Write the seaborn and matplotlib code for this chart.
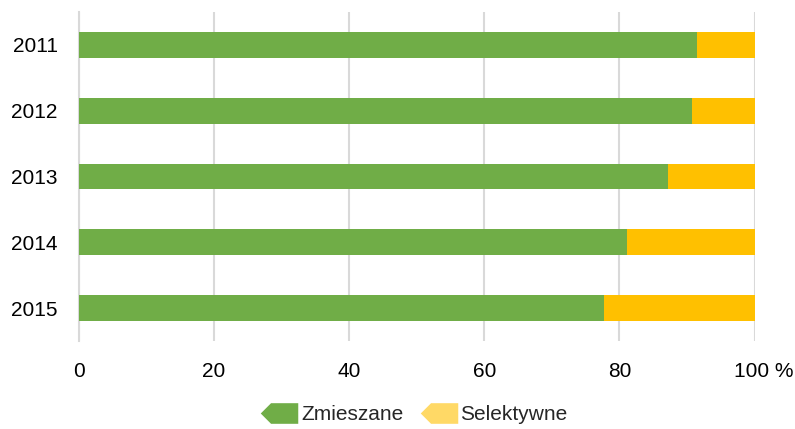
import matplotlib
matplotlib.use("Agg")
import matplotlib.pyplot as plt
import matplotlib.transforms as mtransforms
from matplotlib.lines import Line2D
import numpy as np
import pandas as pd
import seaborn as sns

years = ["2011", "2012", "2013", "2014", "2015"]
zmieszane = [91.5, 90.7, 87.2, 81.1, 77.7]
selektywne = [8.5, 9.3, 12.8, 18.9, 22.3]
xticks = [0, 20, 40, 60, 80, 100]
xtick_labels = ["0", "20", "40", "60", "80", "100 %"]

green = "#70AD47"
yellow = "#FFC000"
yellow_legend = "#FFD966"
grid_gray = "#D9D9D9"

sns.set_style("white")
plt.rcParams["font.family"] = ["Liberation Sans", "DejaVu Sans"]

df = pd.DataFrame({"rok": years, "Zmieszane": zmieszane, "Selektywne": selektywne})
df["total"] = df["Zmieszane"] + df["Selektywne"]

fig = plt.figure(figsize=(7.95, 4.29), dpi=100)
ax = fig.add_axes([78.5 / 795, 1 - 341 / 429, (754.7 - 78.5) / 795, (341 - 12) / 429])

sns.barplot(data=df, y="rok", x="total", color=yellow, orient="h", width=0.39,
            saturation=1, linewidth=0, ax=ax, zorder=3)
sns.barplot(data=df, y="rok", x="Zmieszane", color=green, orient="h", width=0.39,
            saturation=1, linewidth=0, ax=ax, zorder=3)

ax.set_xlim(0, 100)
ax.set_ylim(4.5, -0.5)
ax.set_xticks(xticks)
ax.set_xticklabels(xtick_labels)
ax.set_xlabel("")
ax.set_ylabel("")
ax.xaxis.grid(True, color=grid_gray, linewidth=1.5, zorder=0)
ax.set_axisbelow(True)
for s in ["top", "right", "bottom"]:
    ax.spines[s].set_visible(False)
ax.spines["left"].set_color(grid_gray)
ax.spines["left"].set_linewidth(1.5)
ax.tick_params(axis="both", length=0, labelsize=15, colors="black")
ax.tick_params(axis="x", pad=15)
ax.tick_params(axis="y", pad=15)

# shift the "100 %" label so the number sits under the gridline
last = ax.get_xticklabels()[-1]
last.set_transform(last.get_transform() + mtransforms.ScaledTranslation(9 / 100, 0, fig.dpi_scale_trans))

arrow = [(-1, 0), (-0.45, 0.55), (1, 0.55), (1, -0.55), (-0.45, -0.55), (-1, 0)]
handles = [
    Line2D([], [], linestyle="none", marker=arrow, markersize=27, markerfacecolor=green,
           markeredgecolor="none", label="Zmieszane"),
    Line2D([], [], linestyle="none", marker=arrow, markersize=27, markerfacecolor=yellow_legend,
           markeredgecolor="none", label="Selektywne"),
]
fig.legend(handles=handles, loc="center", bbox_to_anchor=(414 / 795, 1 - 415 / 429),
           ncol=2, frameon=False, fontsize=15, handlelength=1.8, handletextpad=0.15,
           columnspacing=0.8)

fig.savefig("out.png", dpi=100)
